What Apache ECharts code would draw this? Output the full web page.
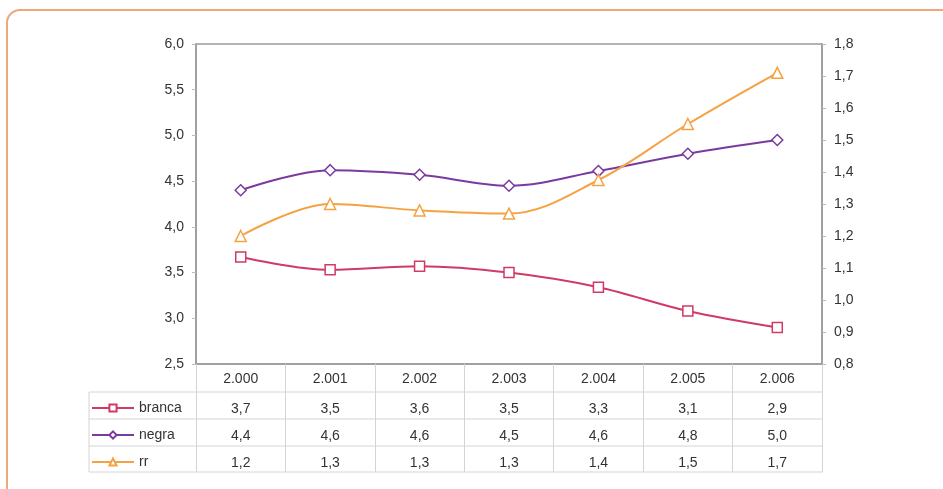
<!DOCTYPE html>
<html>
<head>
<meta charset="utf-8">
<script src="https://cdn.jsdelivr.net/npm/echarts@6/dist/echarts.min.js"></script>
<style>
html,body{margin:0;padding:0;background:#fff;overflow:hidden;}
#frame{position:absolute;left:6px;top:9px;width:1000px;height:600px;border:2px solid #efa77c;border-radius:14px;box-sizing:border-box;}
#chart{position:absolute;left:0;top:0;width:943px;height:489px;}
</style>
</head>
<body>
<div id="frame"></div>
<div id="chart"></div>
<script>
// ---- data ----
const categories = ['2.000','2.001','2.002','2.003','2.004','2.005','2.006'];
const seriesNames = ['branca','negra','rr'];
const branca = [3.67, 3.53, 3.57, 3.50, 3.34, 3.08, 2.90];
const negra  = [4.40, 4.62, 4.57, 4.45, 4.61, 4.80, 4.95];
const rr     = [1.20, 1.30, 1.28, 1.27, 1.375, 1.55, 1.71];
const brancaTable = ['3,7','3,5','3,6','3,5','3,3','3,1','2,9'];
const negraTable  = ['4,4','4,6','4,6','4,5','4,6','4,8','5,0'];
const rrTable     = ['1,2','1,3','1,3','1,3','1,4','1,5','1,7'];

const chart = echarts.init(document.getElementById('chart'));
const fmt = v => v.toFixed(1).replace('.', ',');
const labelStyle = {fontFamily:'Arial, Liberation Sans, sans-serif', fontSize:14, color:'#333'};
const gridLeft = 196, gridRight = 943-822, gridTop = 44, gridHeight = 320;

function tableAxis(arr, offset){
  return {
    type:'category', data:categories, position:'bottom', offset:offset,
    axisLine:{show:false}, axisTick:{show:false},
    axisLabel:Object.assign({margin:7, formatter:(v,i)=>arr[i]}, labelStyle)
  };
}

const colors = ['#cf3a66','#7a3aa0','#f5a243'];
const option = {
  animation:false,
  grid:{left:gridLeft, right:gridRight, top:gridTop, height:gridHeight, show:true, borderColor:'#9a9a9a', borderWidth:1.5, backgroundColor:'#fff'},
  legend:{
    orient:'vertical', left:86, top:396, itemWidth:42, itemHeight:9, itemGap:13,
    data:seriesNames,
    textStyle:{fontFamily:'Arial, Liberation Sans, sans-serif', fontSize:14, color:'#333'}
  },
  xAxis:[
    {
      type:'category', data:categories, position:'bottom',
      axisLine:{show:true, lineStyle:{color:'#9a9a9a', width:1.5}},
      axisTick:{show:true, length:108, inside:false, lineStyle:{color:'#d4d4d4', width:1}},
      axisLabel:Object.assign({margin:8}, labelStyle)
    },
    tableAxis(brancaTable, 31),
    tableAxis(negraTable, 58),
    tableAxis(rrTable, 85)
  ],
  yAxis:[
    {type:'value', min:2.5, max:6, interval:0.5, position:'left',
     axisLine:{show:true, lineStyle:{color:'#9a9a9a', width:1.5}},
     axisTick:{show:true, length:4, lineStyle:{color:'#bbb'}},
     splitLine:{show:false},
     axisLabel:Object.assign({margin:12, formatter:fmt}, labelStyle)},
    {type:'value', min:0.8, max:1.8, interval:0.1, position:'right',
     axisLine:{show:true, lineStyle:{color:'#9a9a9a', width:1.5}},
     axisTick:{show:true, length:4, lineStyle:{color:'#bbb'}},
     splitLine:{show:false},
     axisLabel:Object.assign({margin:12, formatter:fmt}, labelStyle)}
  ],
  series:[
    {name:'branca', type:'line', data:branca, yAxisIndex:0, smooth:0.35, symbol:'rect', symbolSize:10,
     lineStyle:{color:colors[0], width:2}, itemStyle:{color:'#fff', borderColor:colors[0], borderWidth:1.5}},
    {name:'negra', type:'line', data:negra, yAxisIndex:0, smooth:0.35, symbol:'diamond', symbolSize:11,
     lineStyle:{color:colors[1], width:2}, itemStyle:{color:'#fff', borderColor:colors[1], borderWidth:1.5}},
    {name:'rr', type:'line', data:rr, yAxisIndex:1, smooth:0.35, symbol:'triangle', symbolSize:11,
     lineStyle:{color:colors[2], width:2}, itemStyle:{color:'#fff', borderColor:colors[2], borderWidth:1.5}}
  ],
  graphic:[
    {type:'line', shape:{x1:89, y1:392, x2:823, y2:392}, style:{stroke:'#d4d4d4', lineWidth:1}, silent:true},
    {type:'line', shape:{x1:89, y1:419, x2:823, y2:419}, style:{stroke:'#d4d4d4', lineWidth:1}, silent:true},
    {type:'line', shape:{x1:89, y1:446, x2:823, y2:446}, style:{stroke:'#d4d4d4', lineWidth:1}, silent:true},
    {type:'line', shape:{x1:89, y1:472, x2:823, y2:472}, style:{stroke:'#d4d4d4', lineWidth:1}, silent:true},
    {type:'line', shape:{x1:89, y1:392, x2:89, y2:472}, style:{stroke:'#d4d4d4', lineWidth:1}, silent:true}
  ]
};
chart.setOption(option);
</script>
</body>
</html>
